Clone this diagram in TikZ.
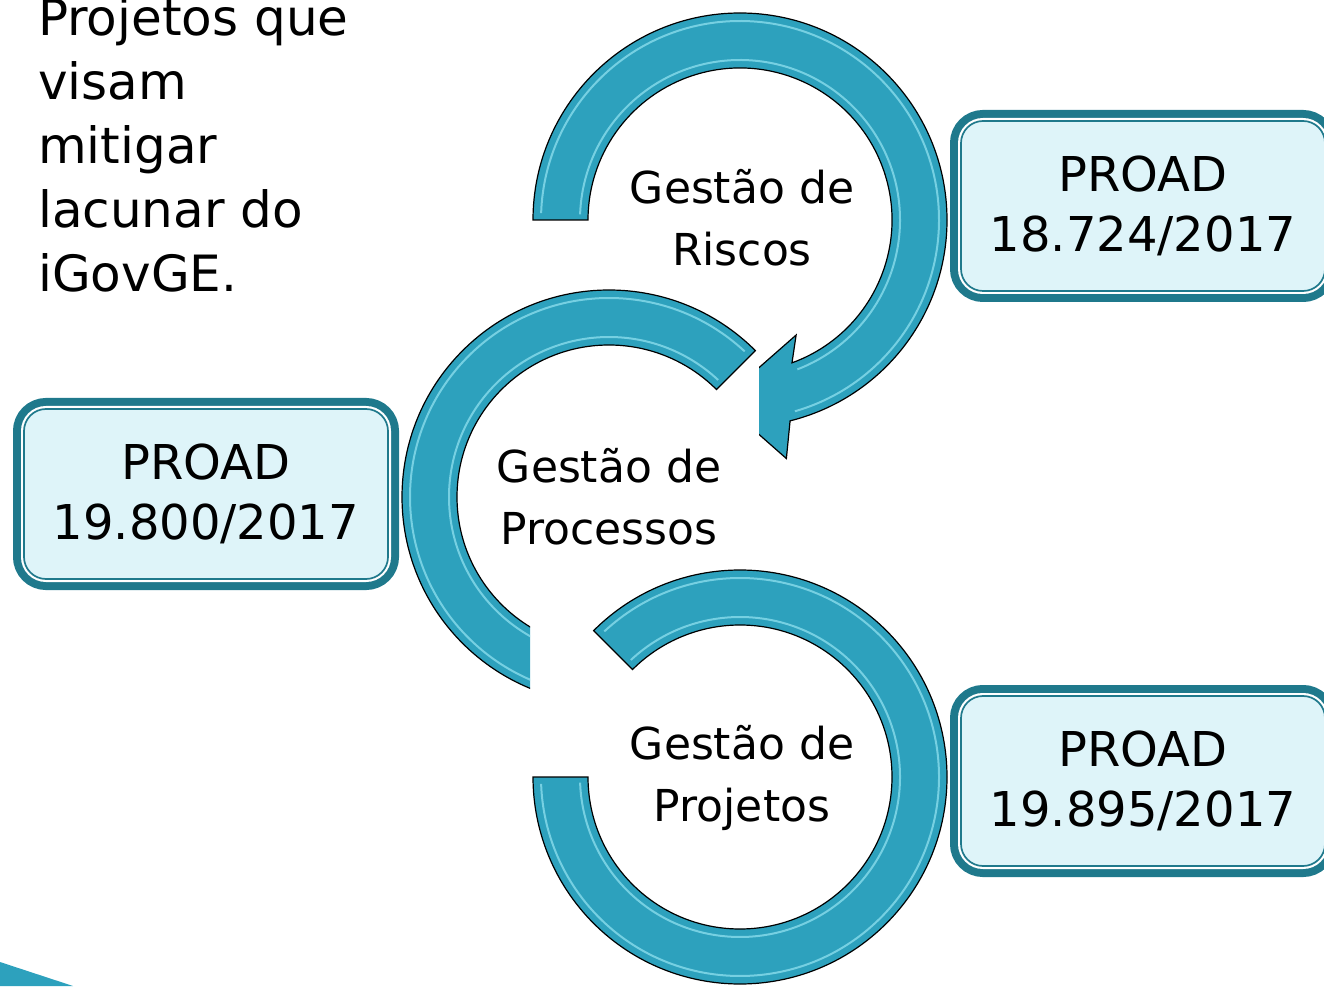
\documentclass[tikz,border=0pt]{standalone}
\usepackage{fontspec}
\setmainfont{DejaVu Sans}
\usetikzlibrary{calc}
\definecolor{ringblue}{RGB}{45,161,189}
\definecolor{ringglint}{RGB}{150,228,242}
\definecolor{boxteal}{RGB}{31,121,140}
\definecolor{boxfill}{RGB}{222,244,249}
\tikzset{
  ring/.style={fill=ringblue,draw=black,line width=1.2pt},
  glint/.style={draw=ringglint,line width=2pt,opacity=.7},
  proad/.style={fill=boxfill,draw=boxteal,line width=1.7pt,rounded corners=22pt,
    minimum width=364pt,minimum height=170pt,inner sep=0pt,align=center,
    font=\fontsize{48}{60}\selectfont,
    preaction={draw=boxteal,line width=22pt},
    preaction={draw=white,line width=6pt}},
  gestao/.style={align=center,inner sep=0pt,font=\fontsize{44}{62}\selectfont}
}
\begin{document}
\begin{tikzpicture}[x=1pt,y=1pt]
\useasboundingbox (0,0) rectangle (1324,986);
\coordinate (c1) at (740,766);
\coordinate (c2) at (609,489);
\coordinate (c3) at (740,209);
% corner wedge
\fill[ringblue] (0,24) -- (73,0) -- (0,0) -- cycle;
% intro text
\node[anchor=north west,inner sep=0pt,align=left,font=\fontsize{50}{64}\selectfont] (intro) at (38,989) {Projetos que\\visam\\mitigar\\lacunar do\\iGovGE.};
% riscos
\begin{scope}
\clip (0,646) -- (759,646) -- (759,0) -- (1324,0) -- (1324,986) -- (0,986) -- cycle;
\draw[ring] ($(c1)+(180:207)$) arc[start angle=180,end angle=-76,radius=207]
  -- ($(c1)+(-79:243)$) -- ($(c1)+(-96:182)$) -- ($(c1)+(-64:128)$)
  -- ($(c1)+(-70:152)$) arc[start angle=-70,end angle=180,radius=152] -- cycle;
\draw[glint] ($(c1)+(178:199)$) arc[start angle=178,end angle=-74,radius=199];
\draw[glint] ($(c1)+(178:160)$) arc[start angle=178,end angle=-69,radius=160];
\end{scope}
% processos
\begin{scope}
\clip (0,0) -- (530,0) -- (530,386) -- (1324,386) -- (1324,986) -- (0,986) -- cycle;
\draw[ring] ($(c2)+(45:207)$) arc[start angle=45,end angle=270,radius=207]
  -- ($(c2)+(270:152)$) arc[start angle=270,end angle=45,radius=152] -- cycle;
\draw[glint] ($(c2)+(47:199)$) arc[start angle=47,end angle=268,radius=199];
\draw[glint] ($(c2)+(47:160)$) arc[start angle=47,end angle=268,radius=160];
\end{scope}
% projetos
\draw[ring] ($(c3)+(135:207)$) arc[start angle=135,end angle=-180,radius=207]
  -- ($(c3)+(180:152)$) arc[start angle=-180,end angle=135,radius=152] -- cycle;
\draw[glint] ($(c3)+(133:199)$) arc[start angle=133,end angle=-178,radius=199];
\draw[glint] ($(c3)+(133:160)$) arc[start angle=133,end angle=-178,radius=160];
\node[gestao] (riscos) at (742,768) {Gestão de\\Riscos};
\node[gestao] (processos) at (609,489) {Gestão de\\Processos};
\node[gestao] (projetos) at (742,208) {Gestão de\\Projetos};
% boxes
\node[proad] (p1) at (1143,780) {PROAD\\18.724/2017};
\node[proad] (p2) at (206,492) {PROAD\\19.800/2017};
\node[proad] (p3) at (1143,205) {PROAD\\19.895/2017};
\end{tikzpicture}
\end{document}
